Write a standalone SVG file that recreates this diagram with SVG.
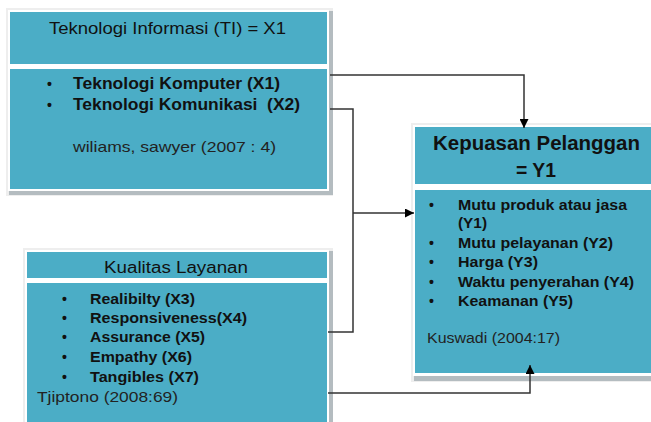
<svg xmlns="http://www.w3.org/2000/svg" width="651" height="422" viewBox="0 0 651 422">
<defs>
<style>
.frame{fill:#eeeeee}
.shadow{fill:#b4bcc0}
.white{fill:#ffffff}
.teal{fill:#4badc6}
text{font-family:"Liberation Sans",Arial,sans-serif;fill:#111}
.title{font-size:16px}
.bigtitle{font-size:20px;font-weight:bold}
.item{font-size:16px;font-weight:bold}
.item2{font-size:14px;font-weight:bold}
.ref{font-size:15px;fill:#222}
.ref2{font-size:14px;fill:#222}
.conn{fill:none;stroke:#333;stroke-width:1.5}
</style>
<marker id="arr" viewBox="0 0 10 10" refX="10" refY="5" markerWidth="6" markerHeight="6" orient="auto" markerUnits="strokeWidth">
<path d="M0,0 L10,5 L0,10 z" fill="#000"/>
</marker>
</defs>
<rect width="651" height="422" fill="#fff"/>

<g id="node-ti">
<rect class="frame" x="6" y="8" width="327" height="188"/>
<rect class="shadow" x="9" y="191" width="324" height="4"/>
<rect class="shadow" x="329" y="11" width="4" height="184"/>
<rect class="white" x="8" y="10" width="321" height="181"/>
<rect class="teal" x="10" y="12" width="317" height="52"/>
<rect class="teal" x="10" y="69" width="317" height="120"/>
<text class="title" x="49" y="34" textLength="237" lengthAdjust="spacingAndGlyphs">Teknologi Informasi (TI) = X1</text>
<text class="item2" x="47" y="89">•</text>
<text class="item" x="73" y="89" textLength="207" lengthAdjust="spacingAndGlyphs">Teknologi Komputer (X1)</text>
<text class="item2" x="47" y="110">•</text>
<text class="item" x="73" y="110" textLength="227" lengthAdjust="spacingAndGlyphs" xml:space="preserve">Teknologi Komunikasi  (X2)</text>
<text class="ref" x="73" y="152" textLength="203" lengthAdjust="spacingAndGlyphs">wiliams, sawyer (2007 : 4)</text>
</g>

<g id="node-kualitas">
<rect class="frame" x="23" y="248" width="310" height="174"/>
<rect class="shadow" x="329" y="251" width="4" height="171"/>
<rect class="white" x="25" y="250" width="304" height="172"/>
<rect class="teal" x="27" y="252" width="300" height="26"/>
<rect class="teal" x="27" y="283" width="300" height="139"/>
<text class="title" x="104" y="273" textLength="144" lengthAdjust="spacingAndGlyphs">Kualitas Layanan</text>
<text class="item2" x="62" y="304">•</text>
<text class="item2" x="90" y="304" textLength="105" lengthAdjust="spacingAndGlyphs">Realibilty (X3)</text>
<text class="item2" x="62" y="323">•</text>
<text class="item2" x="90" y="323" textLength="157" lengthAdjust="spacingAndGlyphs">Responsiveness(X4)</text>
<text class="item2" x="62" y="342">•</text>
<text class="item2" x="90" y="342" textLength="115" lengthAdjust="spacingAndGlyphs">Assurance (X5)</text>
<text class="item2" x="62" y="362">•</text>
<text class="item2" x="90" y="362" textLength="102" lengthAdjust="spacingAndGlyphs">Empathy (X6)</text>
<text class="item2" x="62" y="382">•</text>
<text class="item2" x="90" y="382" textLength="109" lengthAdjust="spacingAndGlyphs">Tangibles (X7)</text>
<text class="ref" x="37" y="402" textLength="141" lengthAdjust="spacingAndGlyphs">Tjiptono (2008:69)</text>
</g>

<g id="node-kepuasan">
<rect class="frame" x="411" y="123" width="240" height="259"/>
<rect class="shadow" x="414" y="376" width="237" height="5"/>
<rect class="white" x="413" y="125" width="238" height="251"/>
<rect class="teal" x="415" y="127" width="236" height="57"/>
<rect class="teal" x="415" y="190" width="236" height="183"/>
<text class="bigtitle" x="433" y="150" textLength="207" lengthAdjust="spacingAndGlyphs">Kepuasan Pelanggan</text>
<text class="bigtitle" x="516" y="177" textLength="40" lengthAdjust="spacingAndGlyphs">= Y1</text>
<text class="item2" x="429" y="210">•</text>
<text class="item2" x="458" y="210" textLength="169" lengthAdjust="spacingAndGlyphs">Mutu produk atau jasa</text>
<text class="item2" x="458" y="228" textLength="29" lengthAdjust="spacingAndGlyphs">(Y1)</text>
<text class="item2" x="429" y="248">•</text>
<text class="item2" x="458" y="248" textLength="155" lengthAdjust="spacingAndGlyphs">Mutu pelayanan (Y2)</text>
<text class="item2" x="429" y="267">•</text>
<text class="item2" x="458" y="267" textLength="80" lengthAdjust="spacingAndGlyphs">Harga (Y3)</text>
<text class="item2" x="429" y="287">•</text>
<text class="item2" x="458" y="287" textLength="176" lengthAdjust="spacingAndGlyphs">Waktu penyerahan (Y4)</text>
<text class="item2" x="429" y="306">•</text>
<text class="item2" x="458" y="306" textLength="115" lengthAdjust="spacingAndGlyphs">Keamanan (Y5)</text>
<text class="ref2" x="427" y="343" textLength="133" lengthAdjust="spacingAndGlyphs">Kuswadi (2004:17)</text>
</g>

<g id="connectors">
<path class="conn" d="M330,75 H524 V128" marker-end="url(#arr)"/>
<path class="conn" d="M330,109 H353 V332 H328"/>
<path class="conn" d="M353,213 H414" marker-end="url(#arr)"/>
<path class="conn" d="M328,393 H530 V365" marker-end="url(#arr)"/>
</g>
</svg>
